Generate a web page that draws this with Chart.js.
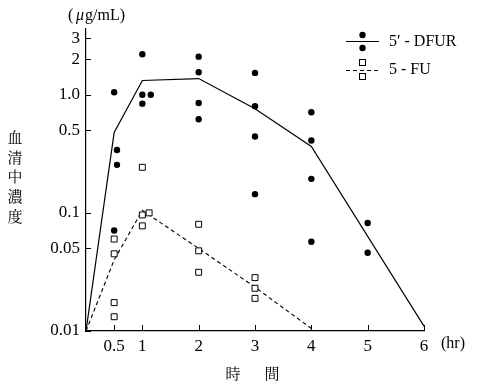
<!DOCTYPE html>
<html>
<head>
<meta charset="utf-8">
<script src="https://cdn.jsdelivr.net/npm/chart.js@4"></script>
<style>
  body { margin: 0; background: #fff; }
</style>
</head>
<body>
<canvas id="chart" width="478" height="388"></canvas>
<script>
// individual patients, 5'-DFUR (filled dots)
const dfurX = [0.5, 0.55, 0.55, 0.5, 1, 1, 1.15, 1, 2, 2, 2, 2, 3, 3, 3, 3, 4, 4, 4, 4, 5, 5];
const dfurY = [1.05, 0.34, 0.255, 0.071, 2.2, 1.0, 1.0, 0.84, 2.1, 1.55, 0.85, 0.62, 1.53, 0.8, 0.443, 0.144, 0.71, 0.41, 0.194, 0.057, 0.082, 0.046];

// individual patients, 5-FU (open squares)
const fuX = [0.5, 0.5, 0.5, 0.5, 1, 1, 1.12, 1, 2, 2, 2, 3, 3, 3];
const fuY = [0.06, 0.045, 0.0174, 0.0132, 0.243, 0.096, 0.1, 0.0776, 0.08, 0.0477, 0.0314, 0.0283, 0.023, 0.0189];

// mean curves
const dfurLineX = [0, 0.5, 1, 2, 3, 4, 6];
const dfurLineY = [0.01, 0.48, 1.32, 1.37, 0.76, 0.365, 0.011];
const fuLineX = [0, 0.5, 1, 2, 3, 4];
const fuLineY = [0.01, 0.04, 0.105, 0.05, 0.0235, 0.0105];

// axis ticks
const xTicks = [0.5, 1, 2, 3, 4, 5, 6];
const yTicks = [0.01, 0.05, 0.1, 0.5, 1, 2, 3];
const yTickLabels = ["0.01", "0.05", "0.1", "0.5", "1.0", "2", "3"];

const toPoints = (xs, ys) => xs.map((x, i) => ({ x: x, y: ys[i] }));

const serif = "'Liberation Serif'";
const cjk = "'Noto Serif CJK JP'";

// inward tick marks, legend and titles
const decorations = {
  id: "decorations",
  afterDraw(chart) {
    const ctx = chart.ctx;
    const xs = chart.scales.x;
    const ys = chart.scales.y;
    const area = chart.chartArea;
    ctx.save();
    ctx.strokeStyle = "#000";
    ctx.lineWidth = 1;
    ctx.beginPath();
    xTicks.forEach((v) => {
      const px = Math.round(xs.getPixelForValue(v)) + 0.5;
      ctx.moveTo(px, area.bottom);
      ctx.lineTo(px, area.bottom - 6);
    });
    yTicks.forEach((v) => {
      const py = Math.round(ys.getPixelForValue(v)) + 0.5;
      ctx.moveTo(area.left, py);
      ctx.lineTo(area.left + 5, py);
    });
    ctx.stroke();

    // legend
    ctx.lineWidth = 1.2;
    ctx.beginPath();
    ctx.moveTo(346, 41.5);
    ctx.lineTo(379, 41.5);
    ctx.stroke();
    ctx.fillStyle = "#000";
    [35, 48].forEach((cy) => {
      ctx.beginPath();
      ctx.arc(362.5, cy, 3.2, 0, Math.PI * 2);
      ctx.fill();
    });
    ctx.lineWidth = 1;
    ctx.setLineDash([4, 3]);
    ctx.beginPath();
    ctx.moveTo(346, 70.5);
    ctx.lineTo(379, 70.5);
    ctx.stroke();
    ctx.setLineDash([]);
    [62.5, 76.5].forEach((cy) => {
      ctx.fillStyle = "#fff";
      ctx.fillRect(359.5, cy - 3, 6, 6);
      ctx.strokeRect(359.5, cy - 3, 6, 6);
    });
    ctx.fillStyle = "#000";
    ctx.font = "16px " + serif;
    ctx.textBaseline = "middle";
    ctx.textAlign = "left";
    ctx.fillText("5′ - DFUR", 389, 42);
    ctx.fillText("5 - FU", 389, 70);

    // unit and axis titles
    ctx.fillText("(", 68, 16);
    ctx.font = "italic 16px " + serif;
    ctx.fillText("μ", 76, 16);
    ctx.font = "16px " + serif;
    ctx.fillText("g/mL)", 85, 16);
    ctx.fillText("(hr)", 441, 344);

    ctx.font = "15px " + cjk;
    ctx.textAlign = "center";
    const yTitle = "血清中濃度";
    for (let i = 0; i < yTitle.length; i++) {
      ctx.fillText(yTitle[i], 15, 137 + i * 19.8);
    }
    ctx.fillText("時", 233, 373);
    ctx.fillText("間", 272, 373);
    ctx.restore();
  },
};

new Chart(document.getElementById("chart"), {
  type: "scatter",
  data: {
    datasets: [
      {
        label: "5'-DFUR",
        data: toPoints(dfurX, dfurY),
        pointStyle: "circle",
        pointRadius: 3.2,
        backgroundColor: "#000",
        borderColor: "#000",
        borderWidth: 0,
      },
      {
        label: "5-FU",
        data: toPoints(fuX, fuY),
        pointStyle: "rect",
        pointRadius: 4.2,
        backgroundColor: "#fff",
        borderColor: "#000",
        borderWidth: 1,
      },
      {
        type: "line",
        label: "5'-DFUR mean",
        data: toPoints(dfurLineX, dfurLineY),
        borderColor: "#000",
        borderWidth: 1.2,
        pointRadius: 0,
        fill: false,
        tension: 0,
      },
      {
        type: "line",
        label: "5-FU mean",
        data: toPoints(fuLineX, fuLineY),
        borderColor: "#000",
        borderWidth: 1.1,
        borderDash: [4, 3],
        pointRadius: 0,
        fill: false,
        tension: 0,
      },
    ],
  },
  options: {
    responsive: false,
    animation: false,
    layout: { padding: { top: 29, right: 54, left: 0, bottom: 0 } },
    plugins: {
      legend: { display: false },
      tooltip: { enabled: false },
    },
    scales: {
      x: {
        type: "linear",
        min: 0,
        max: 6,
        afterBuildTicks: (scale) => {
          scale.ticks = xTicks.map((v) => ({ value: v }));
        },
        afterFit: (scale) => {
          scale.height = 57;
        },
        grid: { display: true, drawOnChartArea: false, drawTicks: false },
        border: { display: true, color: "#000", width: 1.2 },
        ticks: {
          color: "#000",
          font: { family: serif, size: 17 },
          padding: 5,
          maxRotation: 0,
          autoSkip: false,
        },
      },
      y: {
        type: "logarithmic",
        min: 0.01,
        max: 3.6,
        afterBuildTicks: (scale) => {
          scale.ticks = yTicks.map((v) => ({ value: v }));
        },
        afterFit: (scale) => {
          scale.width = 86;
        },
        grid: { display: true, drawOnChartArea: false, drawTicks: false },
        border: { display: true, color: "#000", width: 1.2 },
        ticks: {
          color: "#000",
          font: { family: serif, size: 17 },
          padding: 6,
          autoSkip: false,
          callback: (value, index) => yTickLabels[index],
        },
      },
    },
  },
  plugins: [decorations],
});
</script>
</body>
</html>
